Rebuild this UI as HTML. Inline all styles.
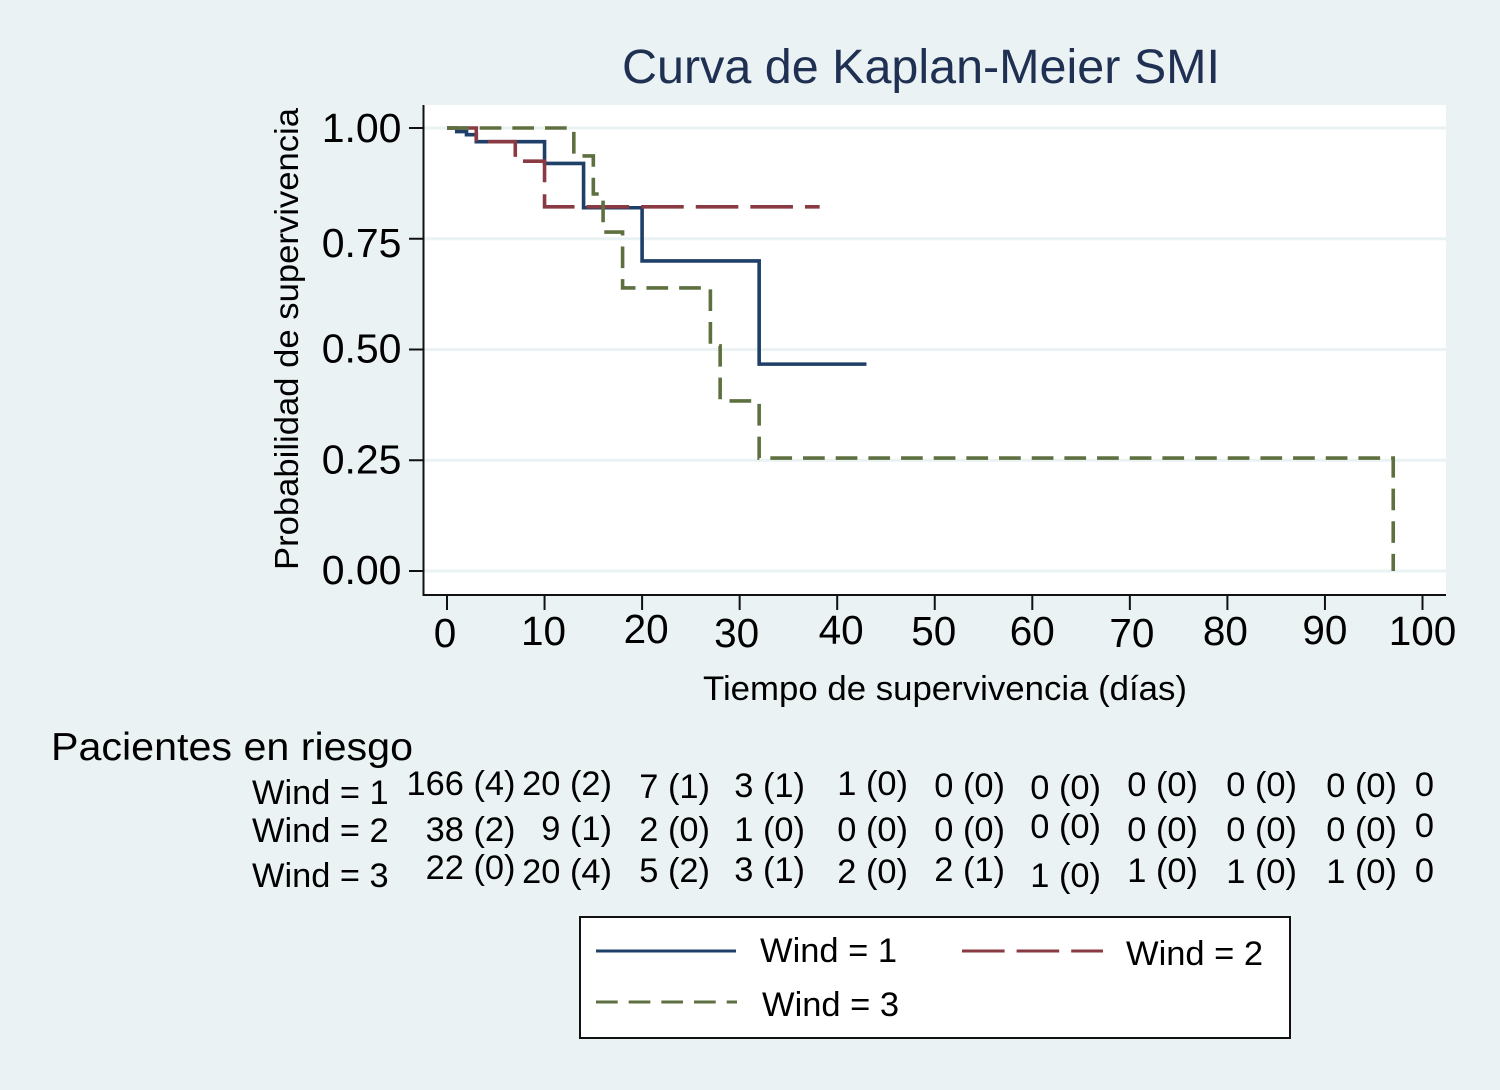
<!DOCTYPE html>
<html lang="es">
<head>
<meta charset="utf-8">
<title>Curva de Kaplan-Meier SMI</title>
<style>
html,body{margin:0;padding:0;background:#eaf2f3;}
svg{display:block;}
text{font-family:"Liberation Sans",sans-serif;fill:#000;}
.risk{font-size:34.4px;text-anchor:end;}
.rowlab{font-size:34.4px;}
.leg{font-size:34.5px;}
</style>
</head>
<body>
<svg id="chart" xmlns="http://www.w3.org/2000/svg" width="1500" height="1090" viewBox="0 0 1500 1090">
  <rect x="0" y="0" width="1500" height="1090" fill="#eaf2f3"/>
  <text x="622" y="83" font-size="48" textLength="598" lengthAdjust="spacingAndGlyphs" style="fill:#1f3052">Curva de Kaplan-Meier SMI</text>
  <rect x="423" y="105" width="1023" height="490" fill="#ffffff"/>
  <g id="grid"></g>
  <g id="series"></g>
  <line x1="423.5" y1="105" x2="423.5" y2="596" stroke="#111" stroke-width="2"/>
  <line x1="423" y1="595" x2="1446" y2="595" stroke="#111" stroke-width="2"/>
  <g id="yticks"></g>
  <g id="xticks"></g>
  <text transform="translate(298,570) rotate(-90)" font-size="33" textLength="462" lengthAdjust="spacingAndGlyphs">Probabilidad de supervivencia</text>
  <text x="703" y="700" font-size="34" textLength="484" lengthAdjust="spacingAndGlyphs">Tiempo de supervivencia (días)</text>
  <text x="51" y="760" font-size="39" textLength="362" lengthAdjust="spacingAndGlyphs">Pacientes en riesgo</text>

  <g>
    <text class="rowlab" x="252" y="804">Wind = 1</text>
    <text class="rowlab" x="252" y="842">Wind = 2</text>
    <text class="rowlab" x="252" y="887">Wind = 3</text>

    <text class="risk" x="515.5" y="795">166 (4)</text>
    <text class="risk" x="612" y="795">20 (2)</text>
    <text class="risk" x="710" y="798">7 (1)</text>
    <text class="risk" x="805" y="797">3 (1)</text>
    <text class="risk" x="908" y="795">1 (0)</text>
    <text class="risk" x="1005" y="797">0 (0)</text>
    <text class="risk" x="1101" y="799">0 (0)</text>
    <text class="risk" x="1198" y="796">0 (0)</text>
    <text class="risk" x="1297" y="796">0 (0)</text>
    <text class="risk" x="1397" y="797">0 (0)</text>
    <text class="risk" x="1434" y="796">0</text>

    <text class="risk" x="515.5" y="841">38 (2)</text>
    <text class="risk" x="612" y="840">9 (1)</text>
    <text class="risk" x="710" y="841">2 (0)</text>
    <text class="risk" x="805" y="841">1 (0)</text>
    <text class="risk" x="908" y="841">0 (0)</text>
    <text class="risk" x="1005" y="841">0 (0)</text>
    <text class="risk" x="1101" y="838">0 (0)</text>
    <text class="risk" x="1198" y="841">0 (0)</text>
    <text class="risk" x="1297" y="841">0 (0)</text>
    <text class="risk" x="1397" y="841">0 (0)</text>
    <text class="risk" x="1434" y="837">0</text>

    <text class="risk" x="515.5" y="879">22 (0)</text>
    <text class="risk" x="612" y="883">20 (4)</text>
    <text class="risk" x="710" y="882">5 (2)</text>
    <text class="risk" x="805" y="881">3 (1)</text>
    <text class="risk" x="908" y="883">2 (0)</text>
    <text class="risk" x="1005" y="881">2 (1)</text>
    <text class="risk" x="1101" y="887">1 (0)</text>
    <text class="risk" x="1198" y="882">1 (0)</text>
    <text class="risk" x="1297" y="883">1 (0)</text>
    <text class="risk" x="1397" y="883">1 (0)</text>
    <text class="risk" x="1434" y="882">0</text>
  </g>

  <g>
    <rect x="580" y="917" width="710" height="121" fill="#ffffff" stroke="#111" stroke-width="2"/>
    <line x1="596" y1="951" x2="736" y2="951" stroke="#1d3f68" stroke-width="3"/>
    <text class="leg" x="760" y="962">Wind = 1</text>
    <line x1="962" y1="951" x2="1103" y2="951" stroke="#8a3a42" stroke-width="3" stroke-dasharray="42.6 12"/>
    <text class="leg" x="1126" y="965">Wind = 2</text>
    <line x1="596" y1="1002" x2="737" y2="1002" stroke="#5e7040" stroke-width="3" stroke-dasharray="21.7 10.97"/>
    <text class="leg" x="762" y="1016">Wind = 3</text>
  </g>
</svg>
<script>
// Chart data
const xTickValues = [0, 10, 20, 30, 40, 50, 60, 70, 80, 90, 100];
const yTickValues = [1.00, 0.75, 0.50, 0.25, 0.00];
const yTickLabels = ['1.00', '0.75', '0.50', '0.25', '0.00'];

const wind1Times = [0, 1, 2, 3, 10, 14, 20, 32, 43];
const wind1Survival = [1, 0.992, 0.985, 0.969, 0.92, 0.82, 0.70, 0.467, 0.467];

const wind2Times = [0, 3, 7, 10, 38.2];
const wind2Survival = [1, 0.969, 0.925, 0.822, 0.822];

const wind3Times = [0, 13, 15, 16, 18, 27, 28, 32, 97];
const wind3Survival = [1, 0.937, 0.851, 0.765, 0.639, 0.508, 0.384, 0.255, 0];

// Small hand-placement offsets of the printed tick labels in the source image
const xLabelOffsetX = [-2, -1, 4, -3, 4, -1, 0, 2, -2, 0, 0];
const xLabelOffsetY = [2, 0, -2, 2, -1, 0, 0, 2, 0, -1, 0];
const yLabelOffsetY = [0, 4, -1, -1, -1];

// Axis functions
function xScale(t) { return 447 + 9.755 * t; }
function yScale(v) { return 571 - 443 * v; }

const NS = 'http://www.w3.org/2000/svg';
function make(tag, parent) {
  const el = document.createElementNS(NS, tag);
  parent.appendChild(el);
  return el;
}

const gridGroup = document.getElementById('grid');
const yTickGroup = document.getElementById('yticks');
const xTickGroup = document.getElementById('xticks');
const seriesGroup = document.getElementById('series');

yTickValues.forEach(function (v, i) {
  const y = yScale(v);
  const grid = make('line', gridGroup);
  
  
  grid.setAttribute('x1', 424);
  grid.setAttribute('x2', 1446);
  grid.setAttribute('y1', y);
  grid.setAttribute('y2', y);
  grid.setAttribute('stroke', '#eaf2f3');
  grid.setAttribute('stroke-width', 3);

  const tick = make('line', yTickGroup);
  
  
  tick.setAttribute('x1', 409);
  tick.setAttribute('x2', 423);
  tick.setAttribute('y1', y);
  tick.setAttribute('y2', y);
  tick.setAttribute('stroke', '#111');
  tick.setAttribute('stroke-width', 2);

  const label = make('text', yTickGroup);
  
  
  label.setAttribute('x', 401.5);
  label.setAttribute('y', y + 14 + yLabelOffsetY[i]);
  label.setAttribute('font-size', 41);
  label.setAttribute('text-anchor', 'end');
  label.textContent = yTickLabels[i];
});

xTickValues.forEach(function (t, i) {
  const x = xScale(t);
  const tick = make('line', xTickGroup);
  
  
  tick.setAttribute('x1', x);
  tick.setAttribute('x2', x);
  tick.setAttribute('y1', 595);
  tick.setAttribute('y2', 610);
  tick.setAttribute('stroke', '#111');
  tick.setAttribute('stroke-width', 2);

  const label = make('text', xTickGroup);
  
  
  label.setAttribute('x', x + xLabelOffsetX[i]);
  label.setAttribute('y', 645 + xLabelOffsetY[i]);
  label.setAttribute('font-size', 40.5);
  label.setAttribute('text-anchor', 'middle');
  label.textContent = String(t);
});

function stepPath(times, survival) {
  let d = 'M' + xScale(times[0]) + ' ' + yScale(survival[0]);
  for (let i = 1; i < times.length; i++) {
    d += ' H' + xScale(times[i]) + ' V' + yScale(survival[i]);
  }
  return d;
}

const curve1 = make('path', seriesGroup);


curve1.setAttribute('d', stepPath(wind1Times, wind1Survival));
curve1.setAttribute('fill', 'none');
curve1.setAttribute('stroke', '#1d3f68');
curve1.setAttribute('stroke-width', 3.6);

const curve2 = make('path', seriesGroup);


curve2.setAttribute('d', stepPath(wind2Times, wind2Survival));
curve2.setAttribute('fill', 'none');
curve2.setAttribute('stroke', '#8a3a42');
curve2.setAttribute('stroke-width', 3.6);
curve2.setAttribute('stroke-dasharray', '42.6 12');

const curve3 = make('path', seriesGroup);


curve3.setAttribute('d', stepPath(wind3Times, wind3Survival));
curve3.setAttribute('fill', 'none');
curve3.setAttribute('stroke', '#5e7040');
curve3.setAttribute('stroke-width', 3.6);
curve3.setAttribute('stroke-dasharray', '21.7 10.97');
</script>
</body>
</html>
